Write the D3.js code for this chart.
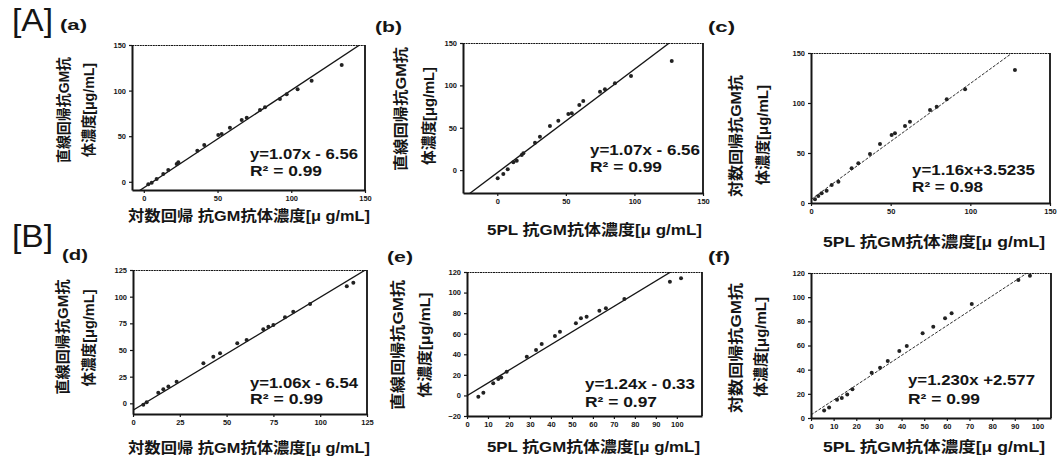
<!DOCTYPE html>
<html>
<head>
<meta charset="utf-8">
<script src="https://cdn.jsdelivr.net/npm/d3@7"></script>
<style>
body { margin: 0; background: #fff; }
text { font-family: "Liberation Sans", "Noto Sans CJK JP", sans-serif; font-weight: bold; fill: #151515; }
</style>
</head>
<body>
<script>
// ---- data ----
var panelNames = ["(a)", "(b)", "(c)", "(d)", "(e)", "(f)"];

var aX = [3.05, 5.35, 8.7, 13.2, 16.6, 22.3, 23.4, 36.3, 41.0, 50.5, 52.8, 58.4, 66.4, 69.8, 78.8, 82.2, 92.3, 96.9, 104.3, 113.8, 134.2];
var aY = [-2.75, -1.0, 3.1, 8.5, 12.9, 19.5, 21.4, 34.1, 40.3, 51.3, 52.4, 59.3, 67.8, 70.3, 78.7, 81.7, 90.8, 95.9, 101.4, 110.9, 128.0];

var bX = [0.3, 4.4, 7.6, 11.7, 14.2, 17.8, 19.0, 27.5, 31.1, 38.4, 44.5, 51.8, 54.3, 59.8, 62.7, 74.9, 78.5, 85.8, 97.5, 127.2];
var bY = [-9.7, -4.6, 1.0, 9.2, 11.1, 17.8, 19.8, 32.3, 39.4, 52.1, 58.3, 66.2, 67.0, 76.8, 81.6, 92.5, 95.4, 102.5, 111.1, 128.7];

var cX = [2.5, 4.6, 6.7, 9.8, 13.0, 17.2, 25.5, 29.7, 37.0, 43.3, 50.6, 52.7, 59.0, 62.1, 74.7, 78.9, 85.2, 96.7, 128.0];
var cY = [3.7, 7.0, 9.7, 12.3, 18.0, 21.3, 34.7, 39.7, 49.0, 59.0, 68.0, 69.7, 77.0, 81.3, 93.0, 96.3, 103.7, 113.7, 133.0];

var dX = [5.5, 7.3, 13.5, 16.2, 18.9, 23.3, 37.6, 42.9, 46.5, 55.7, 60.7, 69.6, 72.3, 75.0, 81.2, 85.6, 94.6, 114.2, 117.7];
var dY = [-1.3, 0.9, 10.0, 13.2, 15.7, 20.3, 37.5, 43.7, 46.9, 56.3, 59.4, 69.4, 71.8, 73.4, 80.6, 85.9, 93.1, 109.7, 113.1];

var eX = [5.4, 7.8, 12.5, 14.9, 16.3, 18.9, 28.5, 32.9, 35.6, 41.9, 44.3, 51.9, 54.3, 57.0, 63.1, 66.2, 75.0, 96.7, 102.0];
var eY = [-1.2, 2.7, 11.8, 16.0, 17.4, 23.1, 37.7, 44.2, 50.0, 57.8, 62.0, 70.1, 75.0, 76.5, 82.4, 84.7, 93.7, 110.6, 113.9];

var fX = [5.8, 8.0, 11.5, 13.6, 16.0, 18.3, 26.8, 30.5, 33.9, 39.0, 42.3, 49.3, 54.0, 59.2, 62.1, 71.0, 91.6, 96.7];
var fY = [6.2, 8.7, 15.2, 16.6, 19.5, 23.8, 37.5, 41.6, 47.2, 55.4, 59.6, 70.1, 75.6, 82.5, 86.6, 94.3, 114.2, 117.8];

// fitted lines as drawn
var fitSlope = [1.07, 1.22, 1.16, 1.06, 1.24, 1.23];
var fitIntercept = [-6.56, -3.0, 3.5235, -6.54, -0.33, 2.577];

var eqLabels = ["y=1.07x - 6.56", "y=1.07x - 6.56", "y=1.16x+3.5235", "y=1.06x - 6.54", "y=1.24x - 0.33", "y=1.230x +2.577"];
var r2Labels = ["R\u00b2 = 0.99", "R\u00b2 = 0.99", "R\u00b2 = 0.98", "R\u00b2 = 0.99", "R\u00b2 = 0.97", "R\u00b2 = 0.99"];

var ticks150 = [0, 50, 100, 150];
var ticks125 = [0, 25, 50, 75, 100, 125];
var ticks10 = [0, 10, 20, 30, 40, 50, 60, 70, 80, 90, 100];
var ticksE = [-20, 0, 20, 40, 60, 80, 100, 120];
var ticksF = [0, 20, 40, 60, 80, 100, 120];

var yLabel1 = ["直線回帰抗GM抗", "直線回帰抗GM抗", "対数回帰抗GM抗", "直線回帰抗GM抗", "直線回帰抗GM抗", "対数回帰抗GM抗"];
var yLabel2 = "体濃度[μg/mL]";
var xLabels = ["対数回帰 抗GM抗体濃度[μ g/mL]", "5PL 抗GM抗体濃度[μ g/mL]", "5PL 抗GM抗体濃度[μ g/mL]",
               "対数回帰 抗GM抗体濃度[μ g/mL]", "5PL 抗GM抗体濃度[μ g/mL]", "5PL 抗GM抗体濃度[μ g/mL]"];

// ---- layout ----
var panels = [
  { xs: aX, ys: aY, box: [132, 365, 45, 190], xd: [-8, 150], yd: [-9, 150], xt: ticks150, yt: ticks150, dash: false,
    name: [60, 30, 27], yl1: [63, 110, 106], yl2: [88, 110, 94], xl: [128, 215, 242], eq: [250, 159, 108], r2: [250, 176, 72] },
  { xs: bX, ys: bY, box: [463, 703, 43, 193], xd: [-25, 150], yd: [-27, 150], xt: ticks150, yt: ticks150, dash: false,
    name: [375, 32, 27], yl1: [400, 109, 124], yl2: [428, 116, 98], xl: [487, 229, 215], eq: [590, 155, 110], r2: [590, 172, 72] },
  { xs: cX, ys: cY, box: [811, 1050, 53, 203], xd: [0, 150], yd: [0, 150], xt: ticks150, yt: ticks150, dash: true,
    name: [708, 32, 27], yl1: [735, 136, 122], yl2: [762, 135, 100], xl: [823, 241, 222], eq: [912, 175, 123], r2: [912, 192, 71] },
  { xs: dX, ys: dY, box: [133, 367, 270, 414], xd: [0, 125], yd: [-10, 125], xt: ticks125, yt: ticks125, dash: false,
    name: [62, 260, 26], yl1: [62, 337, 115], yl2: [88, 338, 97], xl: [128, 447, 242], eq: [250, 388, 108], r2: [250, 404, 73] },
  { xs: eX, ys: eY, box: [467, 702, 272, 416], xd: [0, 112], yd: [-20, 120], xt: ticks10, yt: ticksE, dash: false,
    name: [387, 262, 26], yl1: [397, 345, 130], yl2: [424, 345, 105], xl: [487, 446, 213], eq: [585, 389, 110], r2: [585, 407, 72] },
  { xs: fX, ys: fY, box: [811, 1051, 273, 418], xd: [0, 106], yd: [0, 120], xt: ticks10, yt: ticksF, dash: true,
    name: [708, 262, 22], yl1: [735, 348, 130], yl2: [760, 347, 100], xl: [823, 446, 222], eq: [908, 385, 127], r2: [908, 404, 72] }
];

var ink = "#151515";

var svg = d3.select("body").append("svg")
    .attr("width", 1062)
    .attr("height", 462);

svg.append("text").attr("x", 12).attr("y", 31)
    .attr("font-size", 31).style("font-weight", "normal")
    .attr("textLength", 41).attr("lengthAdjust", "spacingAndGlyphs")
    .text("[A]");
svg.append("text").attr("x", 12).attr("y", 247)
    .attr("font-size", 31).style("font-weight", "normal")
    .attr("textLength", 41).attr("lengthAdjust", "spacingAndGlyphs")
    .text("[B]");

var frames = svg.append("g");

panels.forEach(function(p, i) {
    var g = svg.append("g");
    var x = d3.scaleLinear().domain(p.xd).range([p.box[0], p.box[1]]);
    var y = d3.scaleLinear().domain(p.yd).range([p.box[3], p.box[2]]);

    var clipId = "clip" + i;
    svg.append("clipPath").attr("id", clipId)
        .append("rect")
        .attr("x", p.box[0]).attr("y", p.box[2])
        .attr("width", p.box[1] - p.box[0]).attr("height", p.box[3] - p.box[2]);

    // frame: thin dotted top, solid right
    frames.append("line")
        .attr("x1", p.box[0]).attr("x2", p.box[1])
        .attr("y1", p.box[2] + 0.5).attr("y2", p.box[2] + 0.5)
        .attr("stroke", ink).attr("stroke-width", 1).attr("stroke-dasharray", "2,0.6");
    frames.append("line")
        .attr("x1", p.box[1]).attr("x2", p.box[1])
        .attr("y1", p.box[2]).attr("y2", p.box[3])
        .attr("stroke", "#111").attr("stroke-width", 1.8);

    // fitted line
    var lx = p.xd;
    g.append("line")
        .attr("clip-path", "url(#" + clipId + ")")
        .attr("x1", x(lx[0])).attr("y1", y(fitSlope[i] * lx[0] + fitIntercept[i]))
        .attr("x2", x(lx[1])).attr("y2", y(fitSlope[i] * lx[1] + fitIntercept[i]))
        .attr("stroke", ink)
        .attr("stroke-width", p.dash ? 0.9 : 1.3)
        .attr("stroke-dasharray", p.dash ? "3,1.5" : null);

    // points
    g.selectAll("circle.pt")
        .data(d3.zip(p.xs, p.ys))
        .enter().append("circle")
        .attr("class", "pt")
        .attr("cx", function(d) { return x(d[0]); })
        .attr("cy", function(d) { return y(d[1]); })
        .attr("r", 2)
        .attr("fill", "#222");

    // axes
    var xa = g.append("g")
        .attr("transform", "translate(0," + p.box[3] + ")")
        .call(d3.axisBottom(x).tickValues(p.xt).tickSize(3).tickSizeOuter(0).tickPadding(3).tickFormat(d3.format("d")));
    var ya = g.append("g")
        .attr("transform", "translate(" + p.box[0] + ",0)")
        .call(d3.axisLeft(y).tickValues(p.yt).tickSize(3).tickSizeOuter(0).tickPadding(3).tickFormat(d3.format("d")));
    [xa, ya].forEach(function(a) {
        a.attr("font-family", null).attr("font-size", 7.5);
        a.select(".domain").attr("stroke", ink).attr("stroke-width", 2);
        a.selectAll(".tick line").attr("stroke", ink).attr("stroke-width", 1.2);
        a.selectAll(".tick text").attr("fill", ink);
    });

    // panel letter
    g.append("text").attr("x", p.name[0]).attr("y", p.name[1])
        .attr("font-size", 15)
        .attr("textLength", p.name[2]).attr("lengthAdjust", "spacingAndGlyphs")
        .text(panelNames[i]);

    // y label, two rotated lines
    [[p.yl1, yLabel1[i]], [p.yl2, yLabel2]].forEach(function(l) {
        g.append("text")
            .attr("transform", "translate(" + l[0][0] + "," + l[0][1] + ") rotate(-90)")
            .attr("text-anchor", "middle")
            .attr("dominant-baseline", "central")
            .attr("font-size", 15)
            .attr("textLength", l[0][2]).attr("lengthAdjust", "spacingAndGlyphs")
            .text(l[1]);
    });

    // x label
    g.append("text").attr("x", p.xl[0]).attr("y", p.xl[1])
        .attr("dominant-baseline", "central")
        .attr("font-size", 15)
        .attr("textLength", p.xl[2]).attr("lengthAdjust", "spacingAndGlyphs")
        .text(xLabels[i]);

    // equation
    g.append("text").attr("x", p.eq[0]).attr("y", p.eq[1])
        .attr("font-size", 15)
        .attr("textLength", p.eq[2]).attr("lengthAdjust", "spacingAndGlyphs")
        .text(eqLabels[i]);
    g.append("text").attr("x", p.r2[0]).attr("y", p.r2[1])
        .attr("font-size", 15)
        .attr("textLength", p.r2[2]).attr("lengthAdjust", "spacingAndGlyphs")
        .text(r2Labels[i]);
});
</script>
</body>
</html>
